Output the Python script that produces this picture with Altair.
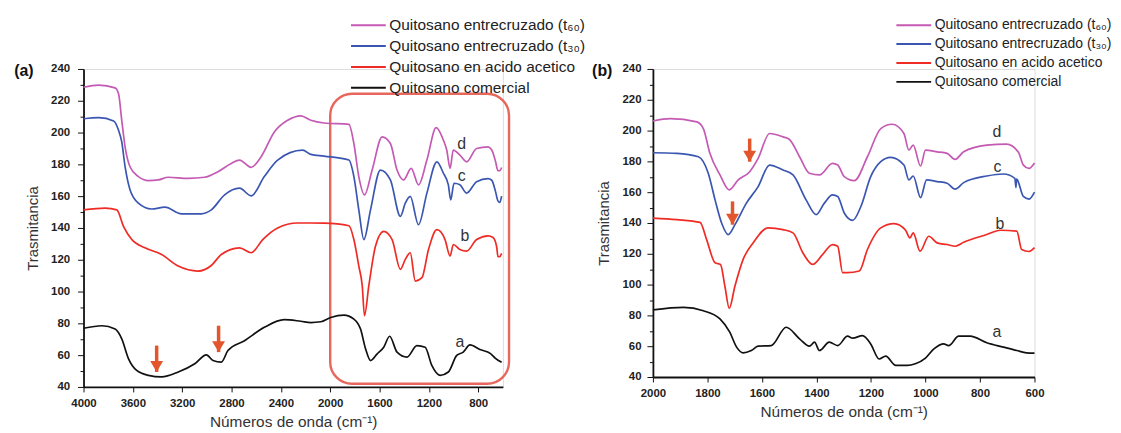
import altair as alt
import pandas as pd

FONT = "Liberation Sans"
SERIES = ["Quitosano entrecruzado (t₆₀)", "Quitosano entrecruzado (t₃₀)",
          "Quitosano en acido acetico", "Quitosano comercial"]
COLORS = ["#C45AB3", "#3A56B1", "#EE2B24", "#111111"]
ARROW = "#E2552D"
BOX = "#E8675C"

# ---------------- panel (a): 4000-600 cm-1 ----------------
A_D_WN = [4000, 3877, 3744, 3716, 3690, 3663, 3623, 3555, 3474, 3394, 3313, 3152, 3018, 2910, 2802, 2735, 2641,
          2560, 2453, 2345, 2238, 2157, 2050, 1848, 1808, 1768, 1722, 1660, 1579, 1512, 1458, 1405, 1343, 1284,
          1216, 1141, 1082, 1055, 1028, 1002, 948, 894, 813, 720, 690, 660, 640, 625, 610]
A_D_T = [228.5, 229.8, 228.1, 224.4, 207.7, 191.0, 178.5, 172.3, 169.8, 170.2, 171.9, 171.2, 171.9, 175.4, 180.6,
         182.7, 178.1, 184.8, 200.4, 207.7, 210.5, 207.7, 206.0, 205.2, 193.1, 172.3, 160.8, 176.4, 197.3, 193.1,
         176.4, 170.2, 177.5, 167.1, 182.7, 203.1, 195.2, 189.0, 177.5, 189.0, 185.8, 181.6, 190.0, 191.0, 189.0,
         182.0, 176.0, 176.0, 178.0]

A_C_WN = [4000, 3877, 3756, 3716, 3690, 3663, 3623, 3555, 3448, 3340, 3206, 3044, 2964, 2856, 2735, 2641, 2534,
          2426, 2224, 2157, 2050, 1848, 1808, 1768, 1727, 1673, 1593, 1512, 1431, 1391, 1351, 1284, 1216, 1135,
          1082, 1042, 1023, 996, 948, 894, 813, 720, 690, 660, 640, 625, 610]
A_C_T = [208.7, 209.4, 207.3, 201.4, 194.1, 178.5, 164.0, 155.6, 151.9, 153.1, 148.9, 148.9, 151.4, 160.8, 165.0,
         160.2, 172.3, 182.7, 188.9, 186.3, 185.2, 182.7, 172.3, 151.4, 132.7, 151.4, 176.4, 170.2, 147.3, 155.6,
         159.8, 142.0, 161.9, 181.6, 174.4, 167.1, 157.7, 168.1, 167.1, 161.9, 169.1, 171.0, 170.0, 163.0, 157.0,
         156.0, 160.0]

A_B_WN = [4000, 3824, 3730, 3676, 3609, 3502, 3367, 3232, 3071, 2964, 2883, 2735, 2641, 2547, 2426, 2265, 2157,
          2050, 1848, 1808, 1768, 1740, 1722, 1687, 1633, 1566, 1498, 1431, 1391, 1351, 1310, 1256, 1203, 1135,
          1069, 1028, 1002, 948, 894, 813, 720, 680, 650, 640, 625, 610]
A_B_T = [151.4, 152.5, 151.4, 141.0, 132.7, 127.5, 123.3, 116.0, 112.9, 116.4, 123.3, 127.5, 124.4, 132.7, 140.0,
         143.1, 143.1, 143.0, 141.4, 132.7, 116.0, 103.5, 84.8, 103.5, 128.5, 137.9, 132.7, 114.0, 120.2, 124.4,
         106.6, 108.7, 126.4, 138.9, 132.7, 122.3, 129.6, 126.4, 125.4, 132.7, 135.0, 134.0, 128.0, 122.0, 122.0,
         124.0]

A_A_WN = [4000, 3851, 3744, 3690, 3635, 3569, 3474, 3367, 3232, 3098, 3004, 2950, 2883, 2829, 2695, 2534, 2373,
          2238, 2157, 2077, 1996, 1889, 1808, 1754, 1713, 1673, 1619, 1566, 1518, 1458, 1377, 1297, 1230, 1176,
          1109, 1042, 974, 921, 867, 786, 700, 660, 610]
A_A_T = [76.9, 78.5, 76.4, 70.2, 57.7, 50.4, 47.3, 46.3, 49.4, 54.6, 60.2, 56.6, 55.6, 62.9, 69.1, 77.5, 82.3,
         81.3, 80.5, 81.0, 83.7, 85.2, 82.7, 76.4, 63.9, 56.6, 60.8, 65.0, 71.9, 61.9, 58.8, 66.0, 65.0, 53.5,
         47.3, 49.4, 59.8, 61.9, 66.4, 63.5, 61.0, 58.0, 55.5]

A_LET = ["d", "c", "b", "a"]
A_LET_WN = [934, 934, 907, 948]
A_LET_T = [193.0, 172.7, 134.8, 68.5]

A_ARR_WN = [3407, 2905]
A_ARR_TOP = [66.0, 78.5]
A_ARR_TIP = [49.4, 61.9]

A_BOX = {"x1": [2000], "x2": [550], "y1": [224.4], "y2": [42.0]}
A_TICKS = [4000, 3600, 3200, 2800, 2400, 2000, 1600, 1200, 800]

# ---------------- panel (b): 2000-600 cm-1 ----------------
B_D_WN = [2000, 1936, 1839, 1815, 1791, 1754, 1720, 1687, 1645, 1614, 1572, 1523, 1499, 1462, 1426, 1389, 1341,
          1322, 1298, 1261, 1213, 1164, 1122, 1079, 1061, 1045, 1018, 1000, 957, 921, 891, 860, 775, 702, 659,
          641, 620, 600]
B_D_T = [206.2, 207.7, 205.6, 201.3, 185.2, 171.2, 161.5, 168.0, 173.3, 181.9, 198.1, 195.9, 194.2, 183.0, 172.3,
         171.2, 178.7, 177.6, 170.1, 167.5, 183.0, 201.3, 204.1, 198.1, 187.3, 190.5, 177.0, 187.3, 186.2, 185.2,
         181.3, 186.2, 190.5, 191.2, 186.0, 177.6, 175.5, 179.0]

B_C_WN = [2000, 1912, 1833, 1797, 1772, 1748, 1724, 1699, 1657, 1614, 1572, 1523, 1486, 1438, 1401, 1371, 1341,
          1322, 1298, 1267, 1237, 1201, 1164, 1128, 1079, 1061, 1045, 1018, 996, 957, 921, 891, 860, 775, 714,
          672, 668, 666, 663, 641, 620, 600]
B_C_T = [185.6, 185.2, 183.0, 172.3, 155.0, 140.0, 132.5, 138.9, 152.9, 163.6, 177.6, 174.4, 171.2, 155.0, 145.4,
         152.9, 158.3, 157.2, 146.5, 141.7, 150.7, 170.1, 179.8, 182.6, 177.6, 168.0, 170.5, 156.5, 168.0, 166.9,
         165.8, 162.0, 166.2, 170.5, 171.8, 169.0, 163.0, 168.5, 168.0, 157.2, 155.5, 160.0]

B_B_WN = [2000, 1912, 1827, 1803, 1772, 1752, 1736, 1720, 1699, 1669, 1632, 1578, 1523, 1486, 1450, 1414, 1377,
          1341, 1322, 1304, 1286, 1243, 1213, 1164, 1115, 1073, 1057, 1045, 1020, 988, 957, 921, 891, 860, 775,
          726, 665, 647, 620, 600]
B_B_T = [143.2, 142.2, 140.4, 129.2, 114.2, 113.1, 99.1, 84.6, 99.1, 116.4, 127.1, 136.8, 135.7, 133.6, 120.7,
         113.1, 119.6, 126.0, 124.9, 107.8, 107.8, 108.8, 122.8, 136.8, 139.6, 135.3, 130.3, 133.6, 121.7, 131.4,
         127.1, 126.0, 124.9, 127.5, 132.5, 135.3, 134.7, 122.8, 121.5, 124.0]

B_A_WN = [2000, 1888, 1815, 1754, 1718, 1693, 1669, 1639, 1614, 1566, 1511, 1462, 1426, 1407, 1389, 1353, 1322,
          1286, 1267, 1231, 1201, 1170, 1146, 1109, 1067, 1037, 1000, 969, 933, 915, 878, 836, 775, 714, 665,
          629, 600]
B_A_T = [83.6, 85.2, 83.0, 77.7, 69.1, 59.4, 55.7, 57.2, 60.0, 60.4, 72.3, 64.8, 60.0, 62.6, 57.2, 62.6, 60.4,
         66.5, 65.2, 66.9, 61.5, 51.7, 53.6, 47.5, 47.5, 48.6, 52.3, 58.3, 61.5, 60.4, 66.5, 66.5, 62.2, 59.4,
         57.2, 55.7, 55.5]

B_LET = ["d", "c", "b", "a"]
B_LET_WN = [738, 736, 727, 738]
B_LET_T = [199.1, 176.5, 139.6, 69.1]

B_ARR_WN = [1645, 1708]
B_ARR_TOP = [194.8, 154.0]
B_ARR_TIP = [179.8, 138.9]

B_TICKS = [2000, 1800, 1600, 1400, 1200, 1000, 800, 600]

Y_TICKS = list(range(40, 241, 10))
HEAD = "M-1,-1.7L1,-1.7L0,0Z"


def curves_df(groups):
    rows = []
    for name, wn, t in groups:
        for w, v in zip(wn, t):
            rows.append({"series": name, "wn": w, "t": v})
    return pd.DataFrame(rows)


def make_panel(curves, xdom, xticks, w, h, let_df, arr_df, box_df, legend_x, legend_font,
               ylab_pad, ytitle_pad, tag, tag_x):
    xscale = alt.Scale(domain=xdom, reverse=True, nice=False, zero=False)
    yscale = alt.Scale(domain=[40, 240], nice=False, zero=False)
    xaxis = alt.Axis(values=xticks, format="d", title="Números de onda (cm⁻¹)", grid=False,
                     labelFont=FONT, labelFontSize=11.5, labelFontWeight="bold", labelColor="#222",
                     labelPadding=6, tickSize=5, tickColor="#111", domainColor="#111", domainWidth=1.8,
                     titleFont=FONT, titleFontSize=15.5, titleFontWeight="normal", titleColor="#333",
                     titlePadding=5, labelFlush=False)
    yaxis = alt.Axis(values=Y_TICKS, format="d", title="Trasmitancia", grid=False,
                     labelExpr="datum.value % 20 === 0 ? datum.label : ''",
                     tickSize={"condition": {"test": "datum.value % 20 === 0", "value": 6}, "value": 3.5},
                     labelFont=FONT, labelFontSize=11.5, labelFontWeight="bold", labelColor="#222",
                     labelPadding=ylab_pad, tickColor="#111", domainColor="#111", domainWidth=1.8,
                     titleFont=FONT, titleFontSize=15, titleFontWeight="normal", titleColor="#333",
                     titlePadding=ytitle_pad)

    def X(f):
        return alt.X(f"{f}:Q", scale=xscale, axis=xaxis)

    def Y(f):
        return alt.Y(f"{f}:Q", scale=yscale, axis=yaxis)

    layers = []
    if box_df is not None:
        layers.append(alt.Chart(box_df).mark_rect(cornerRadius=22, stroke=BOX, strokeWidth=2.4,
                                                  fillOpacity=0).encode(
            x=X("x1"), x2="x2", y=Y("y1"), y2="y2"))

    lines = alt.Chart(curves).mark_line(strokeWidth=1.7, interpolate="monotone").encode(
        x=X("wn"), y=Y("t"),
        color=alt.Color("series:N", scale=alt.Scale(domain=SERIES, range=COLORS),
                        legend=alt.Legend(orient="none", direction="vertical",
                                          legendX=legend_x, legendY=-52, title=None,
                                          symbolType="M-2.5,0H2.5", symbolSize=196,
                                          symbolStrokeWidth=2, labelFont=FONT,
                                          labelFontSize=legend_font, labelColor="#222",
                                          labelOffset=13, rowPadding=4, labelLimit=400)))
    layers.append(lines)

    layers.append(alt.Chart(let_df).mark_text(font=FONT, fontSize=16, color="#333").encode(
        x=X("wn"), y=Y("t"), text="lab:N"))
    layers.append(alt.Chart(arr_df).mark_rule(strokeWidth=3.5, color=ARROW).encode(
        x=X("wn"), y=Y("top"), y2="tip"))
    layers.append(alt.Chart(arr_df).mark_point(shape=HEAD, filled=True, size=169, color=ARROW,
                                               opacity=1).encode(x=X("wn"), y=Y("tip")))
    layers.append(alt.Chart(pd.DataFrame({"tag": [tag]})).mark_text(
        font=FONT, fontSize=16, fontWeight="bold", color="#111").encode(
        x=alt.value(tag_x), y=alt.value(2), text="tag:N"))
    return alt.layer(*layers).properties(width=w, height=h)


left_curves = curves_df([(SERIES[0], A_D_WN, A_D_T), (SERIES[1], A_C_WN, A_C_T),
                         (SERIES[2], A_B_WN, A_B_T), (SERIES[3], A_A_WN, A_A_T)])
right_curves = curves_df([(SERIES[0], B_D_WN, B_D_T), (SERIES[1], B_C_WN, B_C_T),
                          (SERIES[2], B_B_WN, B_B_T), (SERIES[3], B_A_WN, B_A_T)])

left = make_panel(left_curves, [600, 4000], A_TICKS, 422, 320,
                  pd.DataFrame({"lab": A_LET, "wn": A_LET_WN, "t": A_LET_T}),
                  pd.DataFrame({"wn": A_ARR_WN, "top": A_ARR_TOP, "tip": A_ARR_TIP}),
                  pd.DataFrame(A_BOX), 278.7, 15.5, 8, 10, "(a)", -60)
right = make_panel(right_curves, [600, 2000], B_TICKS, 384, 310,
                   pd.DataFrame({"lab": B_LET, "wn": B_LET_WN, "t": B_LET_T}),
                   pd.DataFrame({"wn": B_ARR_WN, "top": B_ARR_TOP, "tip": B_ARR_TIP}),
                   None, 254.5, 14, 6, 11, "(b)", -51)

chart = alt.hconcat(left, right, spacing=151, bounds="flush").resolve_scale(
    color="independent").properties(
    padding={"left": 5, "top": 7, "right": 0, "bottom": 0}).configure_view(
    strokeWidth=0).configure(font=FONT)

chart.save("out.html", embed_options={"renderer": "svg", "actions": False})
